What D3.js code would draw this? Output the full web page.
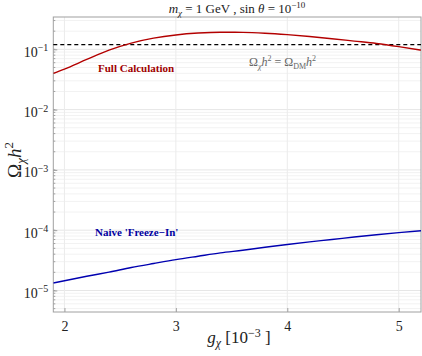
<!DOCTYPE html>
<html><head><meta charset="utf-8">
<script src="https://cdn.jsdelivr.net/npm/d3@7"></script>
<style>body{margin:0;background:#fff}svg{display:block}svg text{font-family:'Liberation Serif','Times New Roman','DejaVu Serif',serif !important}</style>
</head><body><svg id="c" width="422" height="356"></svg>
<script>
const gValues = [1.9,2.0,2.2,2.4,2.6,2.8,3.0,3.2,3.4,3.6,3.8,4.0,4.2,4.4,4.6,4.8,5.0,5.2];
const fullCalc = [0.040,0.047,0.068,0.097,0.127,0.153,0.173,0.186,0.192,0.191,0.185,0.175,0.163,0.150,0.137,0.125,0.111,0.097];
const naiveFreezeIn = [1.33e-5,1.45e-5,1.72e-5,2.02e-5,2.4e-5,2.8e-5,3.25e-5,3.7e-5,4.2e-5,4.65e-5,5.2e-5,5.8e-5,6.4e-5,7.0e-5,7.7e-5,8.4e-5,9.1e-5,9.8e-5];
const omegaDM = 0.12;
const xTicks = [2,3,4,5];
const yTickExps = [-1,-2,-3,-4,-5];

const svg = d3.select("#c");
const L=53.3,R=421,T=17,B=312;
const x = d3.scaleLinear().domain([1.9,5.2]).range([L,R]);
const y = d3.scaleLog().domain([Math.pow(10,-5.357),Math.pow(10,-0.464)]).range([B,T]);

// grid
const minor=[];
for(let e=-6;e<=0;e++){for(let m=1;m<10;m++){const v=m*Math.pow(10,e);if(v>=y.domain()[0]&&v<=y.domain()[1])minor.push(v);}}
svg.append("g").selectAll("line").data(minor).join("line")
 .attr("x1",L).attr("x2",R).attr("y1",d=>y(d)).attr("y2",d=>y(d))
 .attr("stroke",d=>Math.abs(Math.log10(d)-Math.round(Math.log10(d)))<1e-9?"#e6e6e6":"#f2f2f2").attr("stroke-width",1);
svg.append("g").selectAll("line").data(xTicks).join("line")
 .attr("x1",d=>x(d)).attr("x2",d=>x(d)).attr("y1",T).attr("y2",B).attr("stroke","#ebebeb");

// frame
svg.append("rect").attr("x",L).attr("y",T).attr("width",R-L).attr("height",B-T).attr("fill","none").attr("stroke","#a0a0a0").attr("stroke-width",1);

// axes
const ax = svg.append("g").attr("transform",`translate(0,${B})`)
 .call(d3.axisBottom(x).tickValues(xTicks).tickSize(-4).tickPadding(9).tickFormat(d3.format("d")));
ax.select(".domain").remove();
ax.selectAll("line").attr("stroke","#a0a0a0");
ax.selectAll("text").attr("font-size",14).attr("fill","#222");

const ay = svg.append("g").attr("transform",`translate(${L},0)`)
 .call(d3.axisLeft(y).tickValues(yTickExps.map(e=>Math.pow(10,e))).tickSize(-4).tickPadding(5).tickFormat(""));
ay.select(".domain").remove();
ay.selectAll("line").attr("stroke","#a0a0a0");
ay.selectAll(".tick text").each(function(d){
  const t=d3.select(this).attr("font-size",14).attr("fill","#222").attr("dy","0.5em");
  t.append("tspan").text("10");
  t.append("tspan").attr("dy","-0.55em").attr("font-size",10).text("\u2212"+Math.round(-Math.log10(d)));
});
// minor y ticks
svg.append("g").selectAll("line").data(minor).join("line")
 .attr("x1",L).attr("x2",L+2).attr("y1",d=>y(d)).attr("y2",d=>y(d)).attr("stroke","#a0a0a0");

// curves
const line = d3.line().x((d,i)=>x(gValues[i])).y(d=>y(d)).curve(d3.curveMonotoneX);
svg.append("clipPath").attr("id","cp").append("rect").attr("x",L).attr("y",T).attr("width",R-L).attr("height",B-T);
svg.append("line").attr("x1",L).attr("x2",R).attr("y1",y(omegaDM)).attr("y2",y(omegaDM))
 .attr("stroke","#000").attr("stroke-width",1.3).attr("stroke-dasharray","4,3");
svg.append("path").datum(fullCalc).attr("d",line).attr("fill","none").attr("stroke","#b30000").attr("stroke-width",1.4).attr("clip-path","url(#cp)");
svg.append("path").datum(naiveFreezeIn).attr("d",line).attr("fill","none").attr("stroke","#0000b0").attr("stroke-width",1.4).attr("clip-path","url(#cp)");

// annotations
svg.append("text").attr("x",98).attr("y",72).attr("font-size",11).attr("font-weight","bold").attr("fill","#a00000").text("Full Calculation");
svg.append("text").attr("x",95).attr("y",236).attr("font-size",11).attr("font-weight","bold").attr("fill","#0000a0").text("Naive 'Freeze\u2212In'");
const ann = svg.append("text").attr("x",249).attr("y",66).attr("font-size",12).attr("fill","#666");
ann.append("tspan").text("\u03A9");
ann.append("tspan").attr("dy","3").attr("font-size",8).attr("font-style","italic").text("\u03C7");
ann.append("tspan").attr("dy","-3").attr("font-style","italic").text("h");
ann.append("tspan").attr("dy","-5").attr("font-size",8).text("2");
ann.append("tspan").attr("dy","5").text(" = \u03A9");
ann.append("tspan").attr("dy","3").attr("font-size",8).text("DM");
ann.append("tspan").attr("dy","-3").attr("font-style","italic").text("h");
ann.append("tspan").attr("dy","-5").attr("font-size",8).text("2");

// title
const tt = svg.append("text").attr("x",237).attr("y",13).attr("text-anchor","middle").attr("font-size",13).attr("fill","#222");
tt.append("tspan").attr("font-style","italic").text("m");
tt.append("tspan").attr("dy","3").attr("font-size",9).attr("font-style","italic").text("\u03C7");
tt.append("tspan").attr("dy","-3").text(" = 1 GeV ,  sin ");
tt.append("tspan").attr("font-style","italic").text("\u03B8");
tt.append("tspan").text(" = 10");
tt.append("tspan").attr("dy","-5").attr("font-size",9).text("\u221210");

// x label
const xl = svg.append("text").attr("x",239).attr("y",343).attr("text-anchor","middle").attr("font-size",17).attr("fill","#222");
xl.append("tspan").attr("font-style","italic").text("g");
xl.append("tspan").attr("dy","4").attr("font-size",12).attr("font-style","italic").text("\u03C7");
xl.append("tspan").attr("dy","-4").text(" [10");
xl.append("tspan").attr("dy","-6").attr("font-size",12).text("\u22123");
xl.append("tspan").attr("dy","6").text(" ]");

// y label
const yl = svg.append("text").attr("transform","translate(21,160) rotate(-90)").attr("text-anchor","middle").attr("font-size",19).attr("fill","#222");
yl.append("tspan").text("\u03A9");
yl.append("tspan").attr("dy","4").attr("font-size",13).attr("font-style","italic").text("\u03C7");
yl.append("tspan").attr("dy","-4").attr("font-style","italic").text("h");
yl.append("tspan").attr("dy","-8").attr("font-size",13).text("2");
</script></body></html>
